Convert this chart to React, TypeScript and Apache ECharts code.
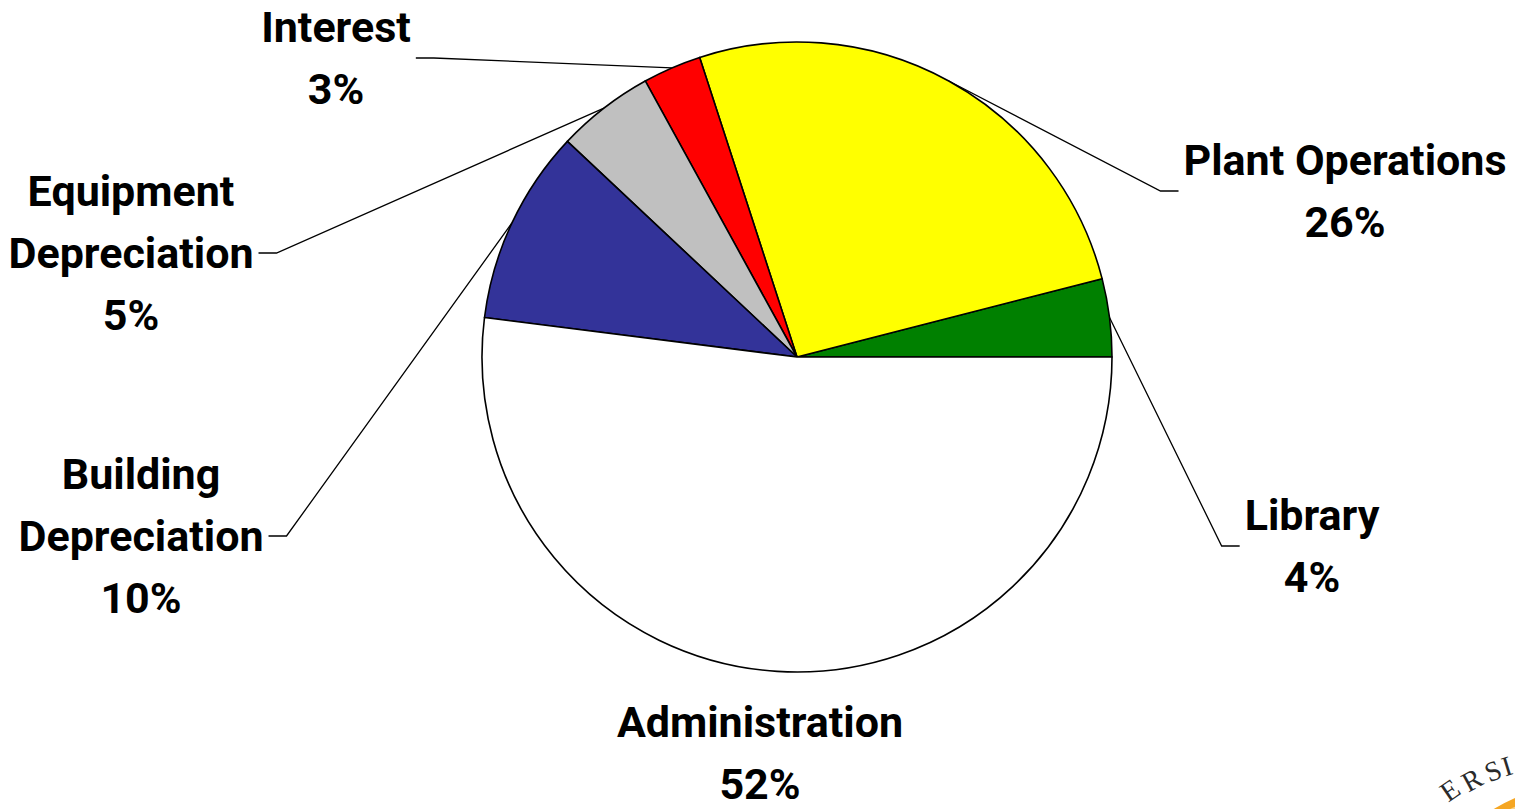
import React, { useEffect, useRef } from "react";
import * as echarts from "echarts";

// ---- data ----
const categories = [
  "Library",
  "Plant Operations",
  "Interest",
  "Equipment\nDepreciation",
  "Building\nDepreciation",
  "Administration",
];
const shares = [4, 26, 3, 5, 10, 52];
const sliceColors = ["#008000", "#FFFF00", "#FF0000", "#C0C0C0", "#333399", "#FFFFFF"];

// ---- layout ----
const CENTER = [797, 357];
const RADIUS = 315;
// label block centers; side: direction from label toward the leader line
const LABEL_POS = [
  { x: 1312, y: 546, side: -1 },
  { x: 1345, y: 191, side: -1 },
  { x: 336, y: 58, side: 1 },
  { x: 131, y: 253, side: 1 },
  { x: 141, y: 536, side: 1 },
  { x: 760, y: 753, side: 0 },
];
const FONT = "Roboto, 'Liberation Sans', Arial, sans-serif";
const SEAL_FONT = "28px 'Liberation Serif', serif";

export default function App() {
  const ref = useRef<HTMLDivElement>(null);

  useEffect(() => {
    if (!ref.current) return;
    const chart = echarts.init(ref.current, null, { renderer: "svg" });
    const total = shares.reduce((a, b) => a + b, 0);
    const mids: number[] = [];
    let acc = 0;
    shares.forEach((v) => {
      mids.push(((acc + v / 2) / total) * 360);
      acc += v;
    });

    const sealLetter = (text: string, x: number, y: number, rotation: number) => ({
      type: "text",
      x,
      y,
      rotation,
      silent: true,
      style: { text, font: SEAL_FONT, fill: "#2a2a2a", align: "center", verticalAlign: "middle" },
    });

    const option: any = {
      animation: false,
      backgroundColor: "#ffffff",
      series: [
        {
          type: "pie",
          center: CENTER,
          radius: RADIUS,
          startAngle: 0,
          clockwise: false,
          avoidLabelOverlap: false,
          emphasis: { disabled: true },
          itemStyle: { borderColor: "#000000", borderWidth: 1.6 },
          label: {
            show: true,
            position: "outside",
            formatter: (p: any) => `${p.name}\n${p.value}%`,
            fontFamily: FONT,
            fontWeight: "bold",
            fontSize: 43,
            lineHeight: 62,
            color: "#000000",
            align: "center",
          },
          labelLine: { show: true, lineStyle: { color: "#000000", width: 1.3 } },
          data: categories.map((name, i) => ({
            name,
            value: shares[i],
            itemStyle: { color: sliceColors[i] },
            labelLine: { show: LABEL_POS[i].side !== 0 },
          })),
          labelLayout: (params: any) => {
            const i = params.dataIndex;
            const pos = LABEL_POS[i];
            const w = params.labelRect ? params.labelRect.width : 0;
            const a = (mids[i] * Math.PI) / 180;
            const edge = [CENTER[0] + RADIUS * Math.cos(a), CENTER[1] - RADIUS * Math.sin(a)];
            const endX = pos.x + pos.side * (w / 2 + 5);
            const bendX = endX + pos.side * 18;
            const res: any = {
              x: pos.x,
              y: pos.y,
              align: "center",
              verticalAlign: "middle",
            };
            if (pos.side !== 0) {
              res.labelLinePoints = [edge, [bendX, pos.y], [endX, pos.y]];
            }
            return res;
          },
        },
      ],
      graphic: [
        {
          type: "circle",
          shape: { cx: 1600, cy: 990, r: 210 },
          style: { fill: "#F5A623" },
          silent: true,
        },
        {
          type: "circle",
          shape: { cx: 1600, cy: 990, r: 202 },
          style: { fill: "#FBD38A" },
          silent: true,
        },
        sealLetter("E", 1450, 790, 0.6),
        sealLetter("R", 1472, 780, 0.5),
        sealLetter("S", 1493, 771, 0.4),
        sealLetter("I", 1507, 766, 0.3),
      ],
    };

    chart.setOption(option);
    return () => chart.dispose();
  }, []);

  return (
    <div
      ref={ref}
      style={{ position: "absolute", left: 0, top: 0, width: "1515px", height: "809px" }}
    />
  );
}
